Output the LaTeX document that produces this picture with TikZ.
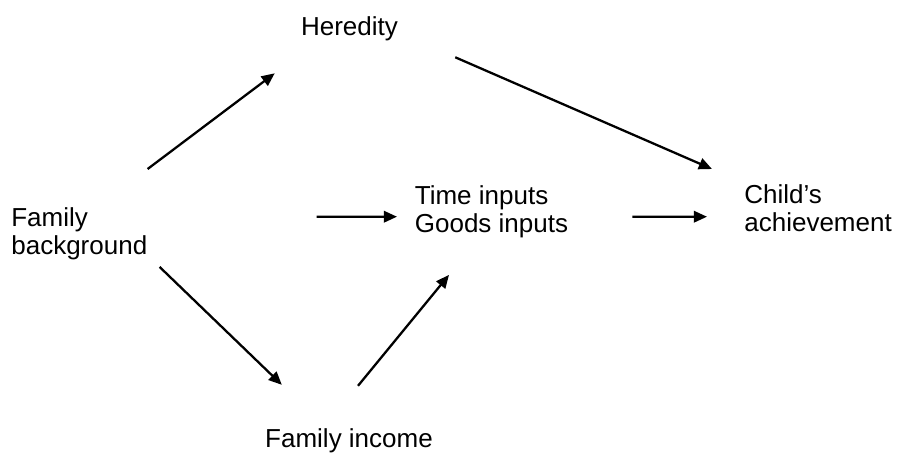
\documentclass[tikz,border=0pt]{standalone}
\usepackage{fontspec}
\setmainfont{Liberation Sans}
\usetikzlibrary{arrows.meta}

\begin{document}
\begin{tikzpicture}[x=0.02cm,y=-0.02cm,font=\fontsize{14.8}{16.2}\selectfont]
  \tikzstyle{label}=[inner sep=0pt,align=left]
  \tikzstyle{arr}=[line width=1.3pt,-{Triangle[length=7.5pt,width=6.5pt]}]
  \useasboundingbox (0,0) rectangle (899,458);
  \node[label,anchor=base] (her) at (349.5,35) {Heredity};
  \node[label,anchor=north west] (fb) at (11,207) {Family\\background};
  \node[label,anchor=north west] (tg) at (414.5,185) {Time inputs\\Goods inputs};
  \node[label,anchor=north west] (ch) at (744,184) {Child’s\\achievement};
  \node[label,anchor=base] (fi) at (349,447) {Family income};
  % arrows float a little off the texts
  \draw[arr] ([shift={(0,-38)}]fb.north east) -- ([shift={(-26,45)}]her.west);
  \draw[arr] ([shift={(57,29)}]her.east) -- ([shift={(-32,-15)}]ch.north west);
  \draw[arr] ([shift={(12,6.5)}]fb.south east) -- ([shift={(17,-43)}]fi.north west);
  \draw[arr] ([shift={(9,-42)}]fi.north) -- ([shift={(34.5,36.5)}]tg.south west);
  \draw[arr] ([xshift=3.38cm,yshift=-0.1cm]fb.east |- tg.west) -- ([shift={(-17.5,5)}]tg.west);
  \draw[arr] ([shift={(64,5)}]tg.east) -- ([xshift=-0.74cm,yshift=-0.1cm]ch.west |- tg.east);
\end{tikzpicture}
\end{document}
